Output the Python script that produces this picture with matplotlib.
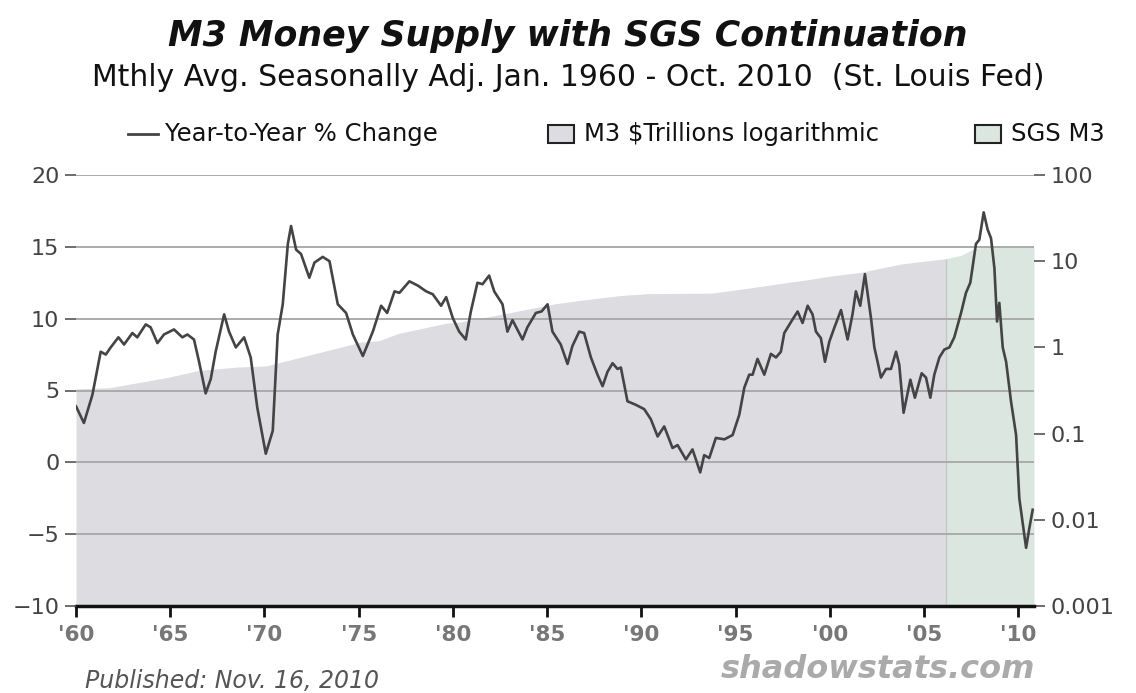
import matplotlib

matplotlib.use("Agg")

import matplotlib.pyplot as plt
from matplotlib.lines import Line2D
from matplotlib.patches import Rectangle

plt.rcParams["font.family"] = ["DejaVu Sans"]

# Year-to-year % change (decimal years)
PCT_YEARS = [
    1960.0, 1960.42, 1960.87, 1961.31, 1961.58, 1961.84, 1962.25, 1962.55, 1962.99,
    1963.25, 1963.7, 1963.96, 1964.32, 1964.67, 1965.2, 1965.64, 1965.91, 1966.26,
    1966.53, 1966.88, 1967.15, 1967.41, 1967.86, 1968.12, 1968.48, 1968.92, 1969.27,
    1969.62, 1970.07, 1970.44, 1970.7, 1970.97, 1971.24, 1971.41, 1971.68, 1971.94,
    1972.38, 1972.65, 1973.09, 1973.45, 1973.89, 1974.33, 1974.69, 1975.22, 1975.75,
    1976.19, 1976.51, 1976.9, 1977.16, 1977.69, 1978.14, 1978.58, 1978.93, 1979.37,
    1979.64, 1979.99, 1980.33, 1980.68, 1980.95, 1981.3, 1981.57, 1981.92, 1982.19,
    1982.63, 1982.89, 1983.16, 1983.69, 1983.95, 1984.4, 1984.7, 1985.02, 1985.28,
    1985.72, 1986.08, 1986.34, 1986.7, 1986.96, 1987.32, 1987.67, 1987.94, 1988.2,
    1988.47, 1988.73, 1988.91, 1989.26, 1989.71, 1990.15, 1990.5, 1990.86, 1991.21,
    1991.65, 1991.92, 1992.36, 1992.71, 1993.12, 1993.33, 1993.6, 1993.95, 1994.4,
    1994.84, 1995.19, 1995.46, 1995.72, 1995.9, 1996.16, 1996.52, 1996.87, 1997.14,
    1997.4, 1997.58, 1998.02, 1998.29, 1998.55, 1998.82, 1999.08, 1999.26, 1999.52,
    1999.74, 1999.97, 2000.23, 2000.59, 2000.94, 2001.2, 2001.38, 2001.61, 2001.86,
    2002.18, 2002.36, 2002.53, 2002.71, 2002.98, 2003.24, 2003.51, 2003.68, 2003.91,
    2004.27, 2004.51, 2004.87, 2005.1, 2005.33, 2005.54, 2005.81, 2006.07, 2006.34,
    2006.6, 2006.96, 2007.22, 2007.45, 2007.75, 2007.93, 2008.16, 2008.37, 2008.55,
    2008.73, 2008.87, 2008.99, 2009.17, 2009.35, 2009.61, 2009.88, 2010.05, 2010.41,
    2010.58, 2010.76,
]
PCT_CHANGE = [
    3.9, 2.74, 4.7, 7.7, 7.5, 8.0, 8.7, 8.2, 9.0,
    8.7, 9.6, 9.4, 8.3, 8.9, 9.25, 8.7, 8.9, 8.55,
    7.0, 4.8, 5.8, 7.7, 10.3, 9.1, 8.0, 8.7, 7.3,
    3.8, 0.6, 2.2, 8.9, 11.0, 15.2, 16.45, 14.8, 14.5,
    12.85, 13.9, 14.3, 14.0, 11.0, 10.4, 8.9, 7.4, 9.1,
    10.9, 10.4, 11.9, 11.8, 12.6, 12.3, 11.9, 11.7, 10.9,
    11.5, 10.05, 9.1, 8.55, 10.5, 12.5, 12.4, 13.0, 11.9,
    11.0, 9.1, 9.9, 8.55, 9.4, 10.4, 10.5, 11.0, 9.1,
    8.2, 6.85, 8.1, 9.1, 9.0, 7.3, 6.1, 5.3, 6.3,
    6.9, 6.5, 6.6, 4.25, 4.0, 3.7, 3.0, 1.8, 2.5,
    1.0, 1.2, 0.2, 0.9, -0.7, 0.5, 0.3, 1.7, 1.6,
    1.9, 3.3, 5.2, 6.1, 6.1, 7.2, 6.1, 7.55, 7.3,
    7.7, 9.0, 9.95, 10.5, 9.7, 10.9, 10.3, 9.1, 8.65,
    7.0, 8.4, 9.35, 10.6, 8.55, 10.3, 11.9, 10.9, 13.1,
    10.05, 8.0, 7.0, 5.9, 6.5, 6.5, 7.7, 6.8, 3.45,
    5.75, 4.5, 6.2, 5.9, 4.5, 6.1, 7.3, 7.85, 8.0,
    8.7, 10.4, 11.8, 12.5, 15.2, 15.5, 17.4, 16.2, 15.6,
    13.5, 9.8, 11.1, 8.0, 7.0, 4.25, 1.9, -2.5, -5.95,
    -4.6, -3.3,
]

# M3 level, $ trillions (official series up to its end in 2006)
M3_YEARS = [
    1960.0, 1961.75, 1964.9, 1966.5, 1968.5, 1970.1, 1975.1, 1976.1, 1977.1,
    1979.6, 1980.3, 1981.8, 1983.1, 1985.4, 1986.7, 1988.9, 1990.3, 1993.7,
    1995.5, 1997.6, 1998.6, 2000.2, 2001.6, 2003.8, 2006.17,
]
M3_LEVEL = [
    0.33, 0.34, 0.45, 0.54, 0.59, 0.61, 1.15, 1.2, 1.45,
    1.9, 1.96, 2.25, 2.55, 3.2, 3.5, 4.0, 4.2, 4.26,
    4.8, 5.6, 6.0, 6.8, 7.4, 9.3, 10.7,
]

# SGS continuation of M3, $ trillions
SGS_YEARS = [2006.17, 2006.96, 2007.67, 2008.2, 2010.83]
SGS_LEVEL = [10.7, 11.7, 14.0, 14.6, 14.6]

X_TICKS = [1960, 1965, 1970, 1975, 1980, 1985, 1990, 1995, 2000, 2005, 2010]
X_LABELS = ["'60", "'65", "'70", "'75", "'80", "'85", "'90", "'95", "'00", "'05", "'10"]
LEFT_TICKS = [-10, -5, 0, 5, 10, 15, 20]
RIGHT_TICKS = [0.001, 0.01, 0.1, 1, 10, 100]
RIGHT_LABELS = ["0.001", "0.01", "0.1", "1", "10", "100"]

GRAY_FILL = "#dcdce1"
GREEN_FILL = "#dae6df"
LINE_COLOR = "#444444"
W, H = 1136, 693


def fx(px):
    return px / W


def fy(py):
    return 1 - py / H


fig = plt.figure(figsize=(W / 100, H / 100), dpi=100)
fig.patch.set_facecolor("white")

# log axis (fills) underneath, linear % axis on top
ax_log = fig.add_axes([fx(76), fy(606), fx(1034) - fx(76), fy(175) - fy(606)])
ax_log.set_yscale("log")
ax_log.set_ylim(0.001, 100)
ax_log.set_xlim(1960, 2010.83)
ax_log.fill_between(M3_YEARS, 0.0001, M3_LEVEL, color=GRAY_FILL, lw=0, zorder=1)
ax_log.fill_between(SGS_YEARS, 0.0001, SGS_LEVEL, color=GREEN_FILL, lw=0, zorder=1)
ax_log.vlines(SGS_YEARS[0], 0.001, SGS_LEVEL[0], color="#c4c8c8", lw=1.0, zorder=1.5)

ax = ax_log.twinx()  # note: twinx resets ax_log ticks to the left, so set them after

ax_log.yaxis.tick_right()
ax_log.set_yticks(RIGHT_TICKS)
ax_log.set_yticklabels(RIGHT_LABELS)
ax_log.minorticks_off()
ax_log.tick_params(axis="y", which="major", length=8, width=1.2, color="#555555",
                   labelsize=16, labelcolor="#444444", pad=4)
ax_log.set_xticks(X_TICKS)
ax_log.set_xticklabels(X_LABELS)
ax_log.tick_params(axis="x", length=8, width=2, color="#111111", labelsize=15.5,
                   labelcolor="#777777", pad=6)
for lab in ax_log.get_xticklabels():
    lab.set_fontweight("bold")
for side in ["top", "left", "right"]:
    ax_log.spines[side].set_visible(False)
ax_log.spines["bottom"].set_linewidth(2.5)
ax_log.spines["bottom"].set_color("#111111")

ax.set_ylim(-10, 20)
ax.set_xlim(1960, 2010.83)
ax.yaxis.tick_left()
ax.set_yticks(LEFT_TICKS)
ax.tick_params(axis="y", length=8, width=1.2, color="#555555", labelsize=16,
               labelcolor="#444444", pad=4)
ax.set_yticklabels([str(t).replace("-", "\u2212") for t in LEFT_TICKS])
for side in ["top", "left", "right", "bottom"]:
    ax.spines[side].set_visible(False)
for t in LEFT_TICKS[1:]:
    ax.axhline(t, color="#ababab", lw=1.4, zorder=2)
ax.plot(PCT_YEARS, PCT_CHANGE, color=LINE_COLOR, lw=1.9, zorder=3)

# titles
fig.text(0.5, fy(36), "M3 Money Supply with SGS Continuation", ha="center", va="center",
         fontsize=25, fontweight="bold", style="italic", color="#111111")
fig.text(0.5, fy(77), "Mthly Avg. Seasonally Adj. Jan. 1960 - Oct. 2010  (St. Louis Fed)",
         ha="center", va="center", fontsize=21.5, color="#111111")

# legend row
ly = fy(134)
fig.add_artist(Line2D([fx(128), fx(158)], [ly, ly], color=LINE_COLOR, lw=2))
fig.text(fx(165), ly, "Year-to-Year % Change", ha="left", va="center", fontsize=17.5,
         color="#111111")
for x0, col, label in [(548, GRAY_FILL, "M3 $Trillions logarithmic"),
                       (975, GREEN_FILL, "SGS M3")]:
    fig.add_artist(Rectangle((fx(x0), fy(143)), fx(26), fy(125) - fy(143),
                             facecolor=col, edgecolor="#222222", lw=1.5))
    fig.text(fx(x0 + 36), ly, label, ha="left", va="center", fontsize=17.5,
             color="#111111")

# footer
fig.text(fx(85), fy(681), "Published: Nov. 16, 2010", ha="left", va="center",
         fontsize=17, style="italic", color="#555555")
fig.text(fx(1035), fy(670), "shadowstats.com", ha="right", va="center", fontsize=23,
         style="italic", fontweight="bold", color="#aaaaaa")

fig.savefig("out.png", dpi=100)
